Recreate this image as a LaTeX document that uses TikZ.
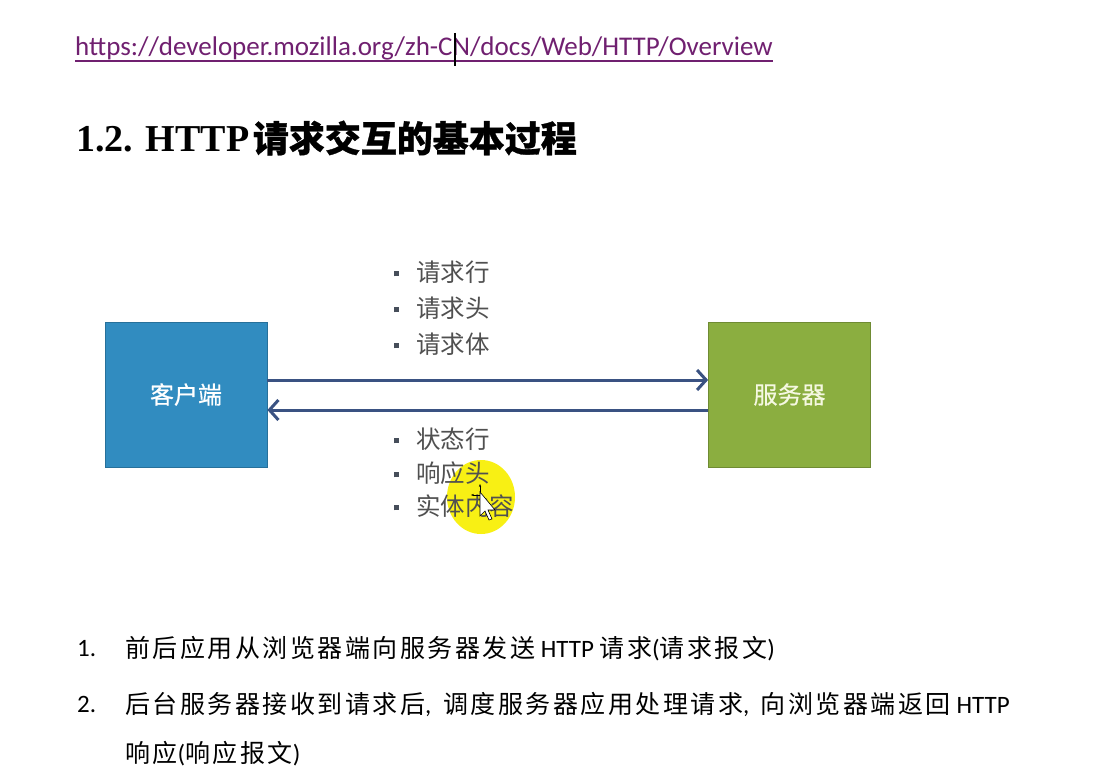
\documentclass[tikz,border=0pt]{standalone}
\usepackage{fontspec}
\setmainfont{Carlito}
\newfontfamily\cjk{Noto Sans CJK SC}
\newfontfamily\cjkm[FakeBold=0.6]{Noto Sans CJK SC}
\newfontfamily\cjkl[LetterSpace=10]{Noto Sans CJK SC}
\newfontfamily\cjkb[FakeBold=0.8]{Noto Sans CJK SC}
\newfontfamily\titlefont{Liberation Serif}
\usetikzlibrary{arrows.meta}
\definecolor{linkcol}{RGB}{112,32,112}
\definecolor{clientcol}{RGB}{49,140,192}
\definecolor{servercol}{RGB}{139,174,64}
\definecolor{arrowcol}{RGB}{58,82,130}
\definecolor{graytext}{RGB}{80,80,80}
\definecolor{bulcol}{RGB}{70,78,90}
\definecolor{hilite}{RGB}{248,240,20}
\tikzset{
  box/.style={minimum width=162pt, minimum height=145pt, inner sep=0pt, draw=#1!80!black, line width=0.8pt, fill=#1, text=white, font=\cjkm\fontsize{24}{24}\selectfont},
  flow/.style={draw=arrowcol, line width=3pt, -{Straight Barb[length=9pt, width=20pt, line width=3pt]}},
  item/.style={anchor=west, inner sep=0pt, text=graytext, font=\cjk\fontsize{24.5}{24.5}\selectfont},
  para/.style={anchor=west, inner sep=0pt, text=black, font=\fontsize{25}{25}\selectfont},
}
\newcommand{\bul}{{\color{bulcol}\raisebox{5pt}{\rule{5pt}{5pt}}}\hspace{17pt}}
\begin{document}
\begin{tikzpicture}[x=1pt, y=-1pt]
\useasboundingbox (0,0) rectangle (1105,783);
\fill[white] (0,0) rectangle (1105,783);

% URL
\node[anchor=west, inner sep=0pt, text=linkcol, font=\fontsize{27}{27}\selectfont] (url) at (75,48) {https://developer.mozilla.org/zh-CN/docs/Web/HTTP/Overview};
\draw[linkcol, line width=1.3pt] ([yshift=-1pt]url.south west) -- ([yshift=-1pt]url.south east);
\coordinate (ibtop) at (455,33);
\coordinate (ibbot) at (455,66);
\draw[black, line width=1.6pt] (ibtop) -- (ibbot);

% Title
\node[anchor=west, inner sep=0pt, font=\titlefont\bfseries\fontsize{38}{38}\selectfont] (title) at (76,138) {1.2. HTTP\hspace{-6pt} {\cjkb\fontsize{36}{36}\selectfont 请求交互的基本过程}};

% highlight
\fill[hilite] (481,497) ellipse [x radius=34pt, y radius=37pt];

% boxes
\node[box=clientcol] (client) at (186,394.5) {客户端};
\node[box=servercol, text={rgb,255:red,245;green,248;blue,225}] (server) at (789.5,394.5) {服务器};

\draw[flow] ([yshift=14.5pt]client.east) -- ([yshift=14.5pt]server.west);
\draw[flow] ([yshift=-15.5pt]server.west) -- ([yshift=-15.5pt]client.east);

% request items
\node[item] (r1) at (394,272) {\bul 请求行};
\node[item] (r2) at (394,308) {\bul 请求头};
\node[item] (r3) at (394,344) {\bul 请求体};
% response items
\node[item] (s1) at (394,439) {\bul 状态行};
\node[item] (s2) at (394,473) {\bul 响应头};
\node[item] (s3) at (394,506) {\bul 实体内容};

% mouse pointer
\draw[black, fill=white, line width=0.6pt] (480,492) -- (480,516) -- (485,511) -- (489,520) -- (492,519) -- (488,510) -- (495,510) -- cycle;
\draw[black, line width=0.8pt, -{Stealth[length=3pt]}] (480,492) -- (480,484);
\draw[black, line width=0.8pt, -{Stealth[length=3pt]}] (480,495) -- (471,495);

% numbered list
\node[para] (n1) at (77,649) {1.};
\node[para] (p1) at (125,649) {{\cjkl 前后应用从浏览器端向服务器发送} HTTP {\cjkl 请求}({\cjkl 请求报文})};
\node[para] (n2) at (77,704) {2.};
\node[para] (p2) at (125,704) {{\cjkl 后台服务器接收到请求后},\hspace{6pt} {\cjkl 调度服务器应用处理请求},\hspace{6pt} {\cjkl 向浏览器端返回} HTTP};
\node[para] (p3) at (125,754) {{\cjkl 响应}({\cjkl 响应报文})};
\end{tikzpicture}
\end{document}
